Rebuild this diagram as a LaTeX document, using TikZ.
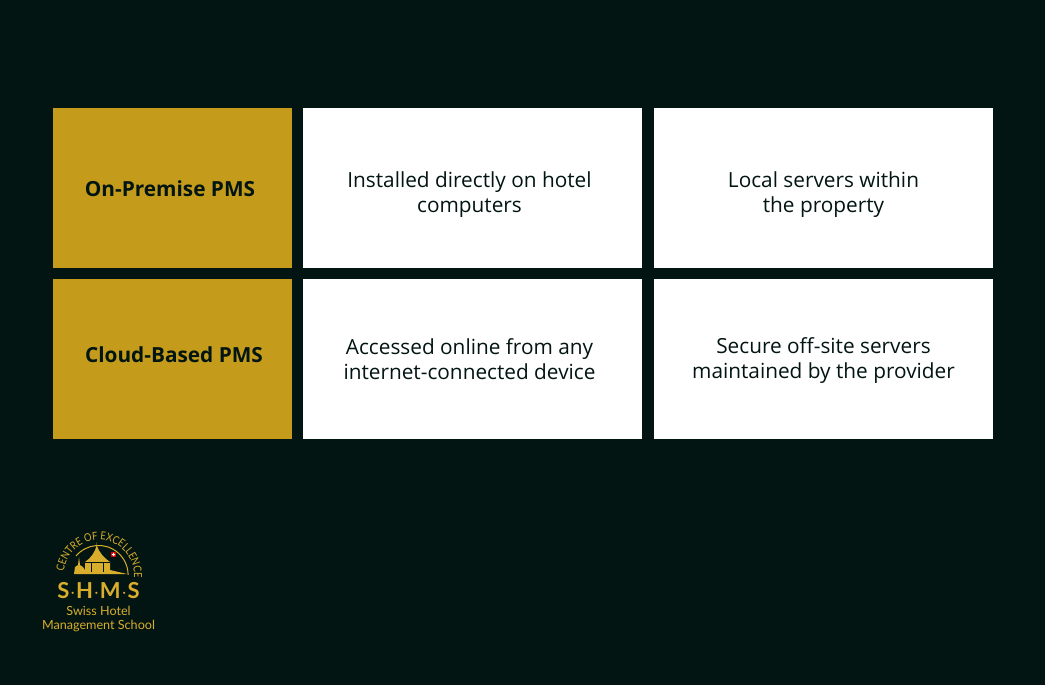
\documentclass[tikz,border=0pt]{standalone}
\usepackage{xcolor}
\usepackage{fontspec}
\setmainfont{Open Sans}
\newfontfamily\logofont{Lato}
\newfontfamily\arcfont[FakeStretch=0.85]{Lato}
\usetikzlibrary{decorations.text}
\definecolor{bgdark}{HTML}{021512}
\definecolor{gold}{HTML}{C49B1B}
\definecolor{logogold}{HTML}{D9AE2C}
\begin{document}
\begin{tikzpicture}[x=1pt,y=1pt,
	gold box/.style={fill=gold, minimum width=239.5pt, minimum height=160.5pt, inner sep=0pt, text=bgdark, font=\fontsize{20.8}{25}\selectfont\bfseries, align=center},
	white box/.style={fill=white, minimum width=339.5pt, minimum height=160.5pt, inner sep=0pt, text=bgdark, font=\fontsize{20.8}{25}\selectfont, align=center},
	logo text/.style={text=logogold, inner sep=0pt, font=\logofont\fontsize{12.6}{14.5}\selectfont, align=center}]
	\fill[bgdark] (0,0) rectangle (1045,-685);
	\useasboundingbox (0,0) rectangle (1045,-685);
	% Boxes
	\node[gold box] (1) at (172.5,-188) {};
	\node[white box] (2) at (472.5,-188) {};
	\node[white box] (3) at (823.5,-188) {};
	\node[gold box] (4) at (172.5,-359) {};
	\node[white box] (5) at (472.5,-359) {};
	\node[white box] (6) at (823.5,-359) {};
	
	% Texts
	\node[gold box, fill=none] (t1) at (170,-188.5) {On-Premise PMS};
	\node[white box, fill=none] (t2) at (469.5,-195) {Installed directly on hotel\\computers};
	\node[white box, fill=none] (t3) at (823.5,-195) {Local servers within\\the property};
	\node[gold box, fill=none] (t4) at (174,-355) {Cloud-Based PMS};
	\node[white box, fill=none] (t5) at (469.5,-359.5) {Accessed online from any\\internet-connected device};
	\node[white box, fill=none] (t6) at (823.5,-360.5) {Secure off-site servers\\maintained by the provider};
	
	% Logo
	\path[postaction={decorate, decoration={text along path, text align=center, text={|\arcfont\fontsize{11}{12}\selectfont\color{logogold}|CENTRE OF EXCELLENCE}}}]
	(64,-575) arc[start angle=180, end angle=-10, radius=35];
	\draw[logogold, line width=1pt] (76,-556) arc[start angle=140, end angle=0, radius=29.5];
	\fill[logogold] (74,-574) -- (75,-567) -- (78,-565) -- (79,-557) -- (80,-565) -- (83,-567) -- (85,-570) -- (85,-562)
	.. controls (91,-558) and (95,-552) .. (96.5,-546) -- (96.7,-542) -- (97,-546)
	.. controls (99,-552) and (104,-558) .. (110,-562) -- (110,-570) -- (127,-574) -- cycle;
	\draw[bgdark, line width=0.5pt] (85,-562) -- (110,-562);
	\draw[bgdark, line width=0.4pt] (91,-562) -- (91,-572) (103,-562) -- (103,-572);
	\fill[red!85!black] (111,-557) rectangle (116,-552);
	\fill[white] (113,-556.2) rectangle (114,-552.8) (111.8,-555) rectangle (115.2,-554);
	\node[logo text, font=\logofont\bfseries\fontsize{22}{22}\selectfont] (7) at (98.5,-591) {S\kern0.5pt$\cdot$\kern0.5pt H\kern0.5pt$\cdot$\kern0.5pt M\kern0.5pt$\cdot$\kern0.5pt S};
	\node[logo text] (8) at (98.5,-619) {Swiss Hotel\\Management School};
\end{tikzpicture}
\end{document}
